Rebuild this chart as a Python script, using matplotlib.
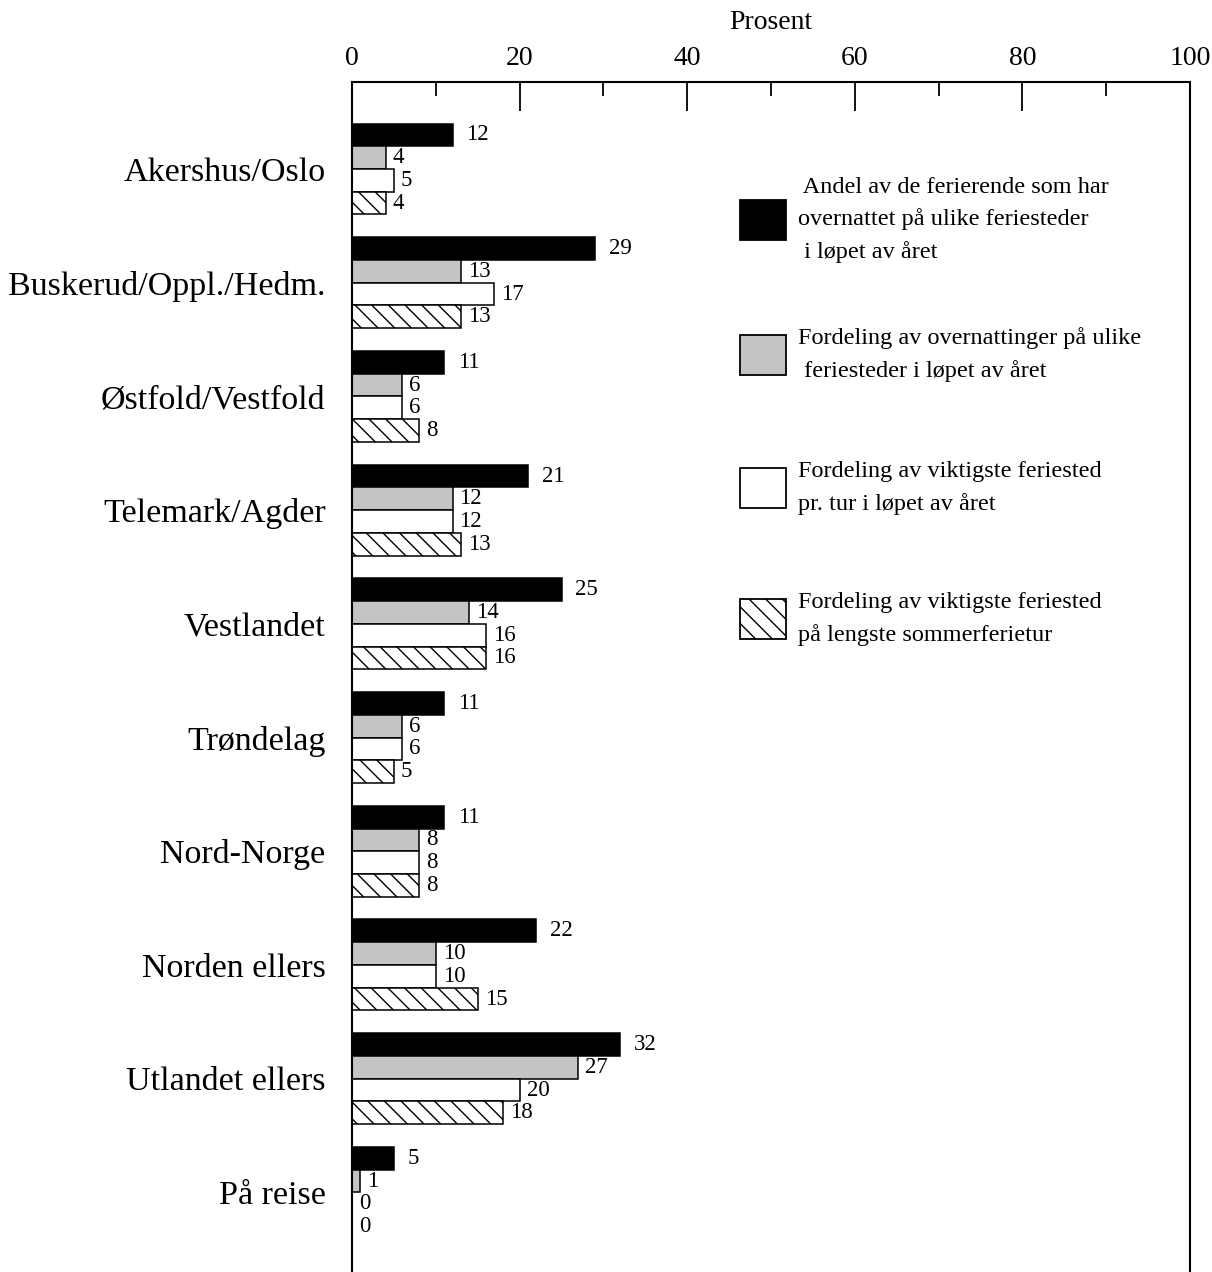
import numpy as np
import matplotlib
matplotlib.use("Agg")
import matplotlib.pyplot as plt
from matplotlib.patches import Rectangle
from matplotlib.ticker import MultipleLocator

plt.rcParams['font.family'] = ['Liberation Serif', 'DejaVu Serif']
plt.rcParams['hatch.linewidth'] = 1.0

regions = ['Akershus/Oslo', 'Buskerud/Oppl./Hedm.', 'Østfold/Vestfold',
           'Telemark/Agder', 'Vestlandet', 'Trøndelag', 'Nord-Norge',
           'Norden ellers', 'Utlandet ellers', 'På reise']
andel = [12, 29, 11, 21, 25, 11, 11, 22, 32, 5]
overnattinger = [4, 13, 6, 12, 14, 6, 8, 10, 27, 1]
viktigste_tur = [5, 17, 6, 12, 16, 6, 8, 10, 20, 0]
sommerferie = [4, 13, 8, 13, 16, 5, 8, 15, 18, 0]

legend_texts = [
    ' Andel av de ferierende som har\novernattet på ulike feriesteder\n i løpet av året',
    'Fordeling av overnattinger på ulike\n feriesteder i løpet av året',
    'Fordeling av viktigste feriested\npr. tur i løpet av året',
    'Fordeling av viktigste feriested\npå lengste sommerferietur',
]

series = [andel, overnattinger, viktigste_tur, sommerferie]
styles = [
    dict(color='black', edgecolor='black', hatch=None),
    dict(color='#c4c4c4', edgecolor='black', hatch=None),
    dict(color='white', edgecolor='black', hatch=None),
    dict(color='white', edgecolor='black', hatch='\\\\'),
]
label_offsets = [10, 5, 5, 5]

W, H = 1212, 1272
fig = plt.figure(figsize=(W / 100, H / 100), dpi=100)
ax = fig.add_axes([352 / W, 0, (1190 - 352) / W, 1 - 82 / H])

y = np.arange(len(regions))
bh = 0.2
for i, (vals, st) in enumerate(zip(series, styles)):
    pos = y + (i - 1.5) * bh
    ax.barh(pos, vals, height=bh, color=st['color'], edgecolor=st['edgecolor'],
            hatch=st['hatch'], linewidth=1.1)
    for p, v in zip(pos, vals):
        ax.annotate(str(v), (v, p), xytext=(label_offsets[i], 0),
                    textcoords='offset points', va='center', ha='left',
                    fontsize=16.5)

ax.set_xlim(0, 100)
ax.set_ylim(9.70, -0.765)
ax.set_yticks(y)
ax.set_yticklabels(regions, fontsize=24.5)
ax.tick_params(axis='y', length=0, pad=19)

ax.xaxis.tick_top()
ax.xaxis.set_major_locator(MultipleLocator(20))
ax.xaxis.set_minor_locator(MultipleLocator(10))
ax.tick_params(axis='x', which='major', direction='in', length=21, width=1.3,
               labelsize=20, pad=8)
ax.tick_params(axis='x', which='minor', direction='in', length=10, width=1.3)
ax.xaxis.set_label_position('top')
ax.set_xlabel('Prosent', fontsize=20, labelpad=12)

ax.spines['bottom'].set_visible(False)
for s in ['left', 'top', 'right']:
    ax.spines[s].set_linewidth(1.5)

# legend drawn by hand to match the layout
leg_y = [220, 355, 488, 619]
for (cy, txt, st) in zip(leg_y, legend_texts, styles):
    fig.patches.append(Rectangle((740 / W, 1 - (cy + 20) / H), 46 / W, 40 / H,
                                 transform=fig.transFigure, facecolor=st['color'],
                                 edgecolor='black', hatch=st['hatch'],
                                 linewidth=1.3))
    fig.text(798 / W, 1 - cy / H, txt, ha='left', va='center', fontsize=17.5,
             linespacing=1.65)

fig.savefig('out.png', dpi=100)
